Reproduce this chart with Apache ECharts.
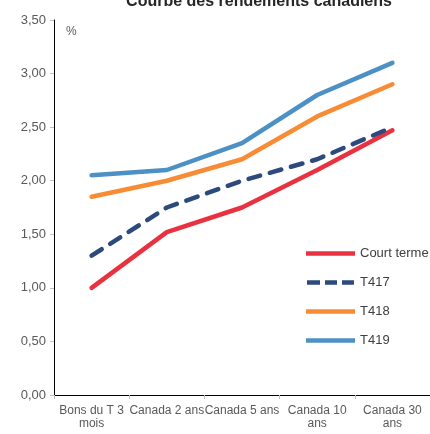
<!DOCTYPE html>
<html>
<head>
<meta charset="utf-8">
<script src="https://cdn.jsdelivr.net/npm/echarts@6/dist/echarts.min.js"></script>
<style>
  html, body { margin: 0; padding: 0; background: #fff; }
  #chart { width: 430px; height: 434px; }
</style>
</head>
<body>
<div id="chart"></div>
<script>
var categories = ['Bons du T 3\nmois', 'Canada 2 ans', 'Canada 5 ans', 'Canada 10\nans', 'Canada 30\nans'];
var courtTerme = [1.00, 1.52, 1.75, 2.10, 2.47];
var t417 = [1.30, 1.75, 2.00, 2.20, 2.50];
var t418 = [1.85, 2.00, 2.20, 2.60, 2.90];
var t419 = [2.05, 2.10, 2.35, 2.80, 3.10];

var myChart = echarts.init(document.getElementById('chart'));

var makeLine = function (name, data, color, type) {
    return {
        name: name,
        type: 'line',
        data: data,
        symbol: 'none',
        lineStyle: { color: color, width: 4.5, type: type, cap: 'round' },
        itemStyle: { color: color }
    };
};

// icone de legende : trait plein ou tirets
var solidIcon = 'path://M0,0h50v4.5h-50z';
var dashIcon = 'path://M0,0h13v4.5h-13z M18,0h12v4.5h-12z M35,0h12v4.5h-12z';

var option = {
    animation: false,
    textStyle: { fontFamily: 'Liberation Sans, Arial, sans-serif' },
    title: {
        text: 'Courbe des rendements canadiens',
        left: 254,
        textAlign: 'center',
        top: -11,
        textStyle: { fontSize: 16, fontWeight: 'bold', color: '#262626' }
    },
    graphic: [{
        type: 'text',
        left: 66,
        top: 26,
        style: { text: '%', fontSize: 12, fill: '#595959', fontFamily: 'Liberation Sans, Arial, sans-serif' }
    }],
    legend: {
        orient: 'vertical',
        left: 301,
        top: 242,
        itemWidth: 49,
        itemHeight: 4.5,
        itemGap: 16,
        textStyle: { fontSize: 13, color: '#404040', padding: [0, 0, 0, 0] },
        data: [
            { name: 'Court terme', icon: solidIcon },
            { name: 'T417', icon: dashIcon },
            { name: 'T418', icon: solidIcon },
            { name: 'T419', icon: solidIcon }
        ]
    },
    grid: { left: 54, right: -19, top: 20, bottom: 39 },
    xAxis: {
        type: 'category',
        data: categories,
        boundaryGap: true,
        axisLine: { lineStyle: { color: '#000', width: 1 } },
        axisTick: { show: true, length: 4, lineStyle: { color: '#bfbfbf' } },
        axisLabel: { interval: 0, fontSize: 12, color: '#595959', margin: 9, lineHeight: 13 }
    },
    yAxis: {
        type: 'value',
        min: 0,
        max: 3.5,
        interval: 0.5,
        axisLine: { show: true, lineStyle: { color: '#000', width: 1 } },
        axisTick: { show: true, length: 4, lineStyle: { color: '#bfbfbf' } },
        splitLine: { show: false },
        axisLabel: {
            fontSize: 13, color: '#595959', margin: 8,
            formatter: function (v) { return v.toFixed(2).replace('.', ','); }
        }
    },
    series: [
        makeLine('Court terme', courtTerme, '#e8323f', 'solid'),
        makeLine('T417', t417, '#2d4a7c', [12, 10]),
        makeLine('T418', t418, '#f78c35', 'solid'),
        makeLine('T419', t419, '#4b91c5', 'solid')
    ]
};

myChart.setOption(option);
</script>
</body>
</html>
